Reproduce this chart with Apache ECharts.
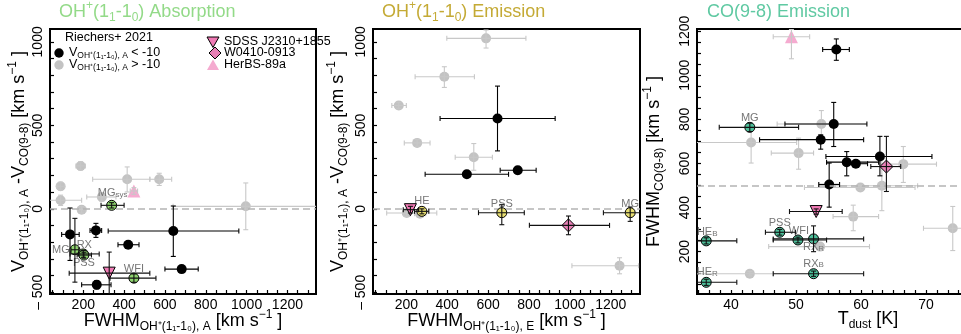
<!DOCTYPE html>
<html><head><meta charset="utf-8">
<script src="https://cdn.jsdelivr.net/npm/echarts@6/dist/echarts.min.js"></script>
<style>html,body{margin:0;padding:0;background:#fff}#c{width:961px;height:334px}</style>
</head><body><div id="c"></div>
<script>
// ---------- DATA: each point = [x, y, xLow, xHigh, yLow, yHigh] ----------
// Panel 1: OH+(1_1-1_0) absorption  (x = FWHM_A, y = V_A - V_CO)
const absGray = [
  [187, 257, 164, 210, 232, 282],
  [89, 135, 70, 108, 112, 158],
  [89, 51, 20, 192, 20, 82],
  [192, -5, 172, 212, -25, 15],
  [291, 71, 217, 360, 45, 97],
  [415, 177, 246, 526, 101, 251],
  [572, 177, 526, 633, 140, 213],
  [996, 15, 640, 1400, -125, 155]
];
const absBlack = [
  [135, -153, 94, 180, -309, 5],
  [262, -129, 233, 290, -171, -87],
  [641, -133, 322, 962, -285, 17],
  [420, -215, 370, 473, -235, -195],
  [682, -361, 600, 763, -381, -341],
  [266, -455, 192, 336, -480, -430]
];
const absCompNames = ['MG_sys', 'MG', 'RX', 'PSS', 'WFI'];
const absComp = [
  [339, 21, 287, 400, 5, 37],
  [159, -245, 140, 178, -439, -57],
  [200, -270, 135, 278, -290, -250],
  [203, -277, 170, 240, -295, -260],
  [448, -415, 331, 556, -440, -390]
];
const absSDSS = [[327, -385, 131, 526, -700, -259]];
const absHerBS = [[448, 107, 430, 466, 87, 127]];

// Panel 2: OH+(1_1-1_0) emission (x = FWHM_E, y = V_A - V_CO)
const emGray = [
  [590, 1021, 398, 785, 963, 1071],
  [386, 791, 243, 533, 727, 851],
  [163, 619, 129, 200, 600, 638],
  [253, 395, 190, 316, 375, 415],
  [530, 309, 439, 621, 231, 391],
  [202, -25, 104, 349, -45, -5],
  [267, -29, 240, 295, -45, -13],
  [1243, -341, 1010, 1336, -389, -293]
];
const emBlack = [
  [646, 541, 365, 928, 347, 735],
  [745, 231, 659, 835, 211, 251],
  [496, 207, 292, 700, 190, 224]
];
const emCompNames = ['HE', 'PSS', 'MG'];
const emComp = [
  [276, -15, 240, 310, -30, 0],
  [667, -23, 553, 777, -95, 25],
  [1295, -23, 1164, 1400, -75, 11]
];
const emSDSS = [[220, -5, 185, 260, -25, 15]];
const emW0410 = [[993, -99, 802, 1194, -155, -43]];

// Panel 3: CO(9-8) emission (x = T_dust, y = FWHM_CO)
const coGray = [
  [53.9, 779, 47.1, 55.5, 708, 840],
  [43.1, 695, 30, 50.1, 602, 753],
  [50.4, 647, 46.2, 52.7, 574, 715],
  [66.5, 597, 62.9, 71.6, 514, 677],
  [59.9, 491, 51.3, 68.3, 480, 502],
  [63.2, 499, 54.7, 68.7, 386, 617],
  [58.8, 359, 55.7, 62.7, 295, 411],
  [74.1, 306, 69.6, 80, 205, 405],
  [53.7, 223, 45.8, 61.3, 210, 236],
  [42.9, 100, 30, 46.5, 90, 110]
];
const coBlack = [
  [56.2, 1117, 54.1, 58.2, 1068, 1165],
  [55.8, 779, 48.3, 60.9, 677, 877],
  [53.8, 708, 44.4, 60.4, 665, 730],
  [57.8, 606, 54.7, 62.7, 544, 654],
  [59.2, 599, 57.5, 61, 585, 613],
  [62.9, 632, 54.6, 70.9, 544, 723],
  [55.1, 505, 53.5, 56.7, 402, 602]
];
const coCompNames = ['MG', 'HE_B', 'HE_R', 'PSS', 'WFI', 'RX_R', 'RX_B'];
const coComp = [
  [42.9, 764, 38.2, 50.4, 745, 783],
  [36.2, 249, 30, 40.9, 235, 263],
  [36.2, 61, 30, 40.9, 47, 75],
  [47.5, 288, 45.3, 49.9, 275, 301],
  [50.3, 253, 46.5, 54.7, 240, 266],
  [52.7, 258, 46.5, 60.4, 200, 317],
  [52.7, 100, 46.5, 60.4, 88, 112]
];
const coSDSS = [[53.1, 382, 49, 57.1, 370, 394]];
const coW0410 = [[63.9, 586, 61.5, 66.1, 473, 723]];
const coHerBS = [[49.3, 1175, 46.5, 52.1, 1075, 1208]];

// reference lines
const velocityRef = 0;
const fwhmRef = 500;

// tick labels
const velTickLabels = [-500, 0, 500, 1000];
const fwhmTickLabels = [200, 400, 600, 800, 1000, 1200];
const coTickLabels = [200, 400, 600, 800, 1000, 1200];
const tdustTickLabels = [40, 50, 60, 70];

const legendHeader = 'Riechers+ 2021';
const legendObjects = ['SDSS J2310+1855', 'W0410-0913', 'HerBS-89a'];

// ---------- STYLE ----------
const F = "'Liberation Sans Narrow','Arial Narrow','Nimbus Sans Narrow','Liberation Sans',sans-serif";
const C = {
  gray: '#c3c3c3', grayBar: '#c8c8c8', green: '#8fd46f', yellow: '#e8df72', teal: '#4dbf9a',
  pink: '#f07ab5', pinkD: '#e880b6', pinkL: '#f5abd0', lbl: '#767676',
  absT: '#93da88', emT: '#c4aa35', coT: '#5fc9a2'
};
const labelOffsets = {
  abs: { MG_sys: [1, -12], MG: [-14, 0], RX: [1, -9], PSS: [0, 8], WFI: [0, -9] },
  em: { HE: [0, -10], PSS: [0, -9], MG: [0, -9] },
  co: { MG: [0, -9], HE_B: [1, -9], HE_R: [1, -10], PSS: [0, -9], WFI: [1, -9], RX_R: [0, 8], RX_B: [0, -10] }
};

function richName(c) {
  return {
    n: { fontSize: 18, fontFamily: F, fontWeight: 'normal', color: c, lineHeight: 24, verticalAlign: 'middle' },
    s: { fontSize: 12, fontFamily: F, fontWeight: 'normal', color: c, lineHeight: 12, verticalAlign: 'bottom' },
    p: { fontSize: 12, fontFamily: F, fontWeight: 'normal', color: c, lineHeight: 12, verticalAlign: 'top' }
  };
}
const RN = richName('#000');

function steps(a, b, st) { const r = []; for (let v = a; v <= b + 1e-9; v += st) r.push(+v.toFixed(4)); return r; }

function xAxisCfg(gi, min, max, ticks, labels, name, gap) {
  return {
    type: 'value', gridIndex: gi, min, max, name, nameLocation: 'middle', nameGap: gap, nameMoveOverlap: false,
    nameTextStyle: { rich: RN },
    axisLine: { show: true, onZero: false, lineStyle: { color: '#000', width: 2 } },
    axisTick: { show: true, inside: true, length: 4, customValues: ticks, lineStyle: { color: '#000', width: 1.2 } },
    axisLabel: { customValues: labels, fontSize: 14, fontFamily: F, color: '#000', margin: 4, formatter: v => String(v) },
    splitLine: { show: false }
  };
}
function yAxisCfg(gi, min, max, ticks, labels, name, gap) {
  return {
    type: 'value', gridIndex: gi, min, max, name, nameLocation: 'middle', nameGap: gap, nameRotate: 90, nameMoveOverlap: false,
    nameTextStyle: { rich: RN },
    axisLine: { show: true, onZero: false, lineStyle: { color: '#000', width: 2 } },
    axisTick: { show: true, inside: true, length: 4, customValues: ticks, lineStyle: { color: '#000', width: 1.2 } },
    axisLabel: {
      customValues: labels, fontSize: 14, fontFamily: F, color: '#000', margin: 5, rotate: 90,
      formatter: v => (v < 0 ? '\u2013 ' + Math.abs(v) : String(v))
    },
    splitLine: { show: false }
  };
}

function errRender(color, lw) {
  return function (params, api) {
    const x = api.value(0), y = api.value(1);
    const c = api.coord([x, y]);
    const a = api.coord([api.value(2), y]), b = api.coord([api.value(3), y]);
    const d = api.coord([x, api.value(4)]), e = api.coord([x, api.value(5)]);
    const cap = 2.5;
    const st = { stroke: color, lineWidth: lw };
    const L = (x1, y1, x2, y2) => ({ type: 'line', shape: { x1, y1, x2, y2 }, style: st });
    const cs = params.coordSys;
    return {
      type: 'group',
      clipPath: { type: 'rect', shape: { x: cs.x, y: cs.y, width: cs.width, height: cs.height } },
      children: [
        L(a[0], c[1], b[0], c[1]), L(a[0], c[1] - cap, a[0], c[1] + cap), L(b[0], c[1] - cap, b[0], c[1] + cap),
        L(c[0], d[1], c[0], e[1]), L(c[0] - cap, d[1], c[0] + cap, d[1]), L(c[0] - cap, e[1], c[0] + cap, e[1])
      ]
    };
  };
}
function bars(data, gi, color, z, lw) {
  return { type: 'custom', xAxisIndex: gi, yAxisIndex: gi, data, renderItem: errRender(color, lw || 1.1),
    encode: { x: 0, y: 1 }, z, silent: true, animation: false };
}
function labelFmt(n) {
  const i = n.indexOf('_');
  return i < 0 ? '{m|' + n + '}' : '{m|' + n.slice(0, i) + '}{b|' + n.slice(i + 1) + '}';
}
function marks(name, data, gi, opts, names, offs) {
  return {
    type: 'scatter', name, xAxisIndex: gi, yAxisIndex: gi, z: opts.z, silent: true, animation: false, clip: true,
    symbol: opts.symbol || 'circle', symbolSize: opts.size || 10, symbolRotate: opts.rot || 0,
    itemStyle: { color: opts.color, borderColor: opts.border || opts.color, borderWidth: opts.border ? 1 : 0, opacity: 1 },
    data: data.map((d, i) => {
      const o = { value: [d[0], d[1]] };
      if (names) {
        o.label = { show: true, position: 'inside', offset: offs[names[i]], formatter: labelFmt(names[i]),
          rich: { m: { fontSize: 11, fontFamily: F, color: C.lbl }, b: { fontSize: 8, fontFamily: F, color: C.lbl, verticalAlign: 'bottom', lineHeight: 8 } } };
      }
      return o;
    })
  };
}
function refLine(gi, val) {
  return { type: 'scatter', xAxisIndex: gi, yAxisIndex: gi, data: [], z: 1, silent: true,
    markLine: { silent: true, symbol: ['none', 'none'], label: { show: false }, animation: false,
      lineStyle: { color: '#b4b4b4', type: [7, 4], width: 1.6 }, data: [{ yAxis: val }] } };
}

function panelSeries(gi, gray, black, comp, compNames, compColor, offs, extras) {
  const s = [refLine(gi, gi === 2 ? fwhmRef : velocityRef),
    marks('gray', gray, gi, { color: C.gray, z: 2 }), bars(gray, gi, C.grayBar, 3),
    marks('black', black, gi, { color: '#000', z: 4 }), bars(black, gi, '#000', 5),
    marks('comp', comp, gi, { color: compColor, border: '#000', z: 6 }, compNames, offs), bars(comp, gi, '#111', 7)];
  return s.concat(extras);
}

const series = [].concat(
  panelSeries(0, absGray, absBlack, absComp, absCompNames, C.green, labelOffsets.abs, [
    marks('SDSS J2310+1855', absSDSS, 0, { color: C.pink, border: '#000', symbol: 'triangle', rot: 180, size: 12, z: 8 }), bars(absSDSS, 0, '#111', 9),
    marks('HerBS-89a', absHerBS, 0, { color: C.pinkL, symbol: 'triangle', size: 13, z: 8 }), bars(absHerBS, 0, '#c8c8c8', 9)
  ]),
  panelSeries(1, emGray, emBlack, emComp, emCompNames, C.yellow, labelOffsets.em, [
    marks('SDSS J2310+1855', emSDSS, 1, { color: C.pink, border: '#000', symbol: 'triangle', rot: 180, size: 12, z: 8 }), bars(emSDSS, 1, '#111', 9),
    marks('W0410-0913', emW0410, 1, { color: C.pinkD, border: '#000', symbol: 'diamond', size: 13, z: 8 }), bars(emW0410, 1, '#111', 9)
  ]),
  panelSeries(2, coGray, coBlack, coComp, coCompNames, C.teal, labelOffsets.co, [
    marks('SDSS J2310+1855', coSDSS, 2, { color: C.pink, border: '#000', symbol: 'triangle', rot: 180, size: 12, z: 8 }), bars(coSDSS, 2, '#111', 9),
    marks('W0410-0913', coW0410, 2, { color: C.pinkD, border: '#000', symbol: 'diamond', size: 13, z: 8 }), bars(coW0410, 2, '#111', 9),
    marks('HerBS-89a', coHerBS, 2, { color: C.pinkL, symbol: 'triangle', size: 13, z: 8 }), bars(coHerBS, 2, '#c8c8c8', 9)
  ])
);

const subOH = 'OH\u207A(1\u2081-1\u2080), ';
const velName = '{n|V}{s|' + subOH + 'A}{n| -V}{s|CO(9-8)}{n| [km s}{p|\u22121}{n| ]}';
const fwhmAName = '{n|FWHM}{s|' + subOH + 'A}{n| [km s}{p|\u22121}{n| ]}';
const fwhmEName = '{n|FWHM}{s|' + subOH + 'E}{n| [km s}{p|\u22121}{n| ]}';
const coName = '{n|FWHM}{s|CO(9-8)}{n| [km s}{p|\u22121}{n| ]}';
const tdName = '{n|T}{s|dust}{n| [K]}';

function titleRich(c) {
  return {
    t: { fontSize: 18, fontFamily: F, fontWeight: 'normal', color: c, lineHeight: 24 },
    p: { fontSize: 12, fontFamily: F, fontWeight: 'normal', color: c, lineHeight: 12, verticalAlign: 'top' },
    s: { fontSize: 12, fontFamily: F, fontWeight: 'normal', color: c, lineHeight: 12, verticalAlign: 'bottom' }
  };
}
const ohTitle = w => '{t|OH}{p|+}{t|(1}{s|1}{t|-1}{s|0}{t|) ' + w + '}';

const legRich = {
  v: { fontSize: 12.5, fontFamily: F, color: '#000', lineHeight: 14 },
  s: { fontSize: 8.5, fontFamily: F, color: '#000', lineHeight: 9, verticalAlign: 'bottom' }
};
const legSub = 'OH\u207A(1\u2081-1\u2080), A';

const gridBase = { show: true, borderColor: '#000', borderWidth: 2, containLabel: false, outerBoundsMode: 'none' };
const option = {
  animation: false,
  backgroundColor: '#fff',
  title: [
    { text: ohTitle('Absorption'), left: 59, top: 0, padding: 0, textStyle: { fontWeight: 'normal', rich: titleRich(C.absT) } },
    { text: ohTitle('Emission'), left: 382, top: 0, padding: 0, textStyle: { fontWeight: 'normal', rich: titleRich(C.emT) } },
    { text: '{t|CO(9-8) Emission}', left: 707, top: 0, padding: 0, textStyle: { fontWeight: 'normal', rich: titleRich(C.coT) } }
  ],
  grid: [
    Object.assign({ left: 50, top: 29, width: 266, height: 265 }, gridBase),
    Object.assign({ left: 373, top: 29, width: 267, height: 265 }, gridBase),
    Object.assign({ left: 697, top: 29, width: 342, height: 265 }, gridBase)
  ],
  xAxis: [
    xAxisCfg(0, 37, 1340, steps(50, 1300, 50), fwhmTickLabels, fwhmAName, 15),
    xAxisCfg(1, 37, 1343, steps(50, 1300, 50), fwhmTickLabels, fwhmEName, 15),
    xAxisCfg(2, 34.78, 87.36, steps(35, 86.7, 10 / 6), tdustTickLabels, tdName, 13)
  ],
  yAxis: [
    yAxisCfg(0, -510, 1077, steps(-500, 1000, 100), velTickLabels, velName, 19),
    yAxisCfg(1, -510, 1077, steps(-500, 1000, 100), velTickLabels, velName, 23),
    yAxisCfg(2, 8, 1210, steps(50, 1200, 50), coTickLabels, coName, 31)
  ],
  graphic: [
    { type: 'text', z: 100, style: { x: 65, y: 37.5, text: legendHeader, font: '12.5px ' + F, fill: '#000', verticalAlign: 'middle' } },
    { type: 'circle', z: 100, shape: { cx: 59, cy: 53, r: 4.7 }, style: { fill: '#000' } },
    { type: 'text', z: 100, style: { x: 69, y: 53, text: '{v|V}{s|' + legSub + '}{v| < -10}', rich: legRich, verticalAlign: 'middle' } },
    { type: 'circle', z: 100, shape: { cx: 59, cy: 65, r: 4.7 }, style: { fill: C.gray } },
    { type: 'text', z: 100, style: { x: 69, y: 65, text: '{v|V}{s|' + legSub + '}{v| > -10}', rich: legRich, verticalAlign: 'middle' } },
    { type: 'polygon', z: 100, shape: { points: [[207, 37], [219, 37], [213, 47.5]] }, style: { fill: C.pink, stroke: '#000', lineWidth: 1 } },
    { type: 'text', z: 100, style: { x: 224, y: 42, text: legendObjects[0], font: '12.5px ' + F, fill: '#000', verticalAlign: 'middle' } },
    { type: 'polygon', z: 100, shape: { points: [[215, 47], [221, 53], [215, 59], [209, 53]] }, style: { fill: C.pinkD, stroke: '#000', lineWidth: 1 } },
    { type: 'text', z: 100, style: { x: 224, y: 53, text: legendObjects[1], font: '12.5px ' + F, fill: '#000', verticalAlign: 'middle' } },
    { type: 'polygon', z: 100, shape: { points: [[207, 70], [219, 70], [213, 59.5]] }, style: { fill: C.pinkL } },
    { type: 'text', z: 100, style: { x: 224, y: 65, text: legendObjects[2], font: '12.5px ' + F, fill: '#000', verticalAlign: 'middle' } }
  ],
  series
};
const chart = echarts.init(document.getElementById('c'), null, { renderer: 'canvas' });
chart.setOption(option);
</script></body></html>
